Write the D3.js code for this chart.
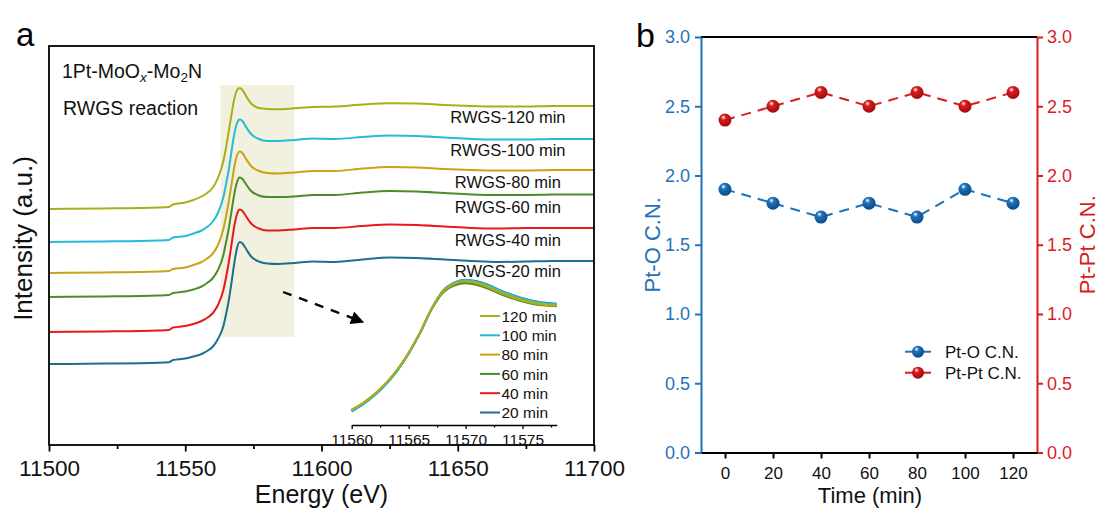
<!DOCTYPE html>
<html>
<head>
<meta charset="utf-8">
<script src="https://cdn.jsdelivr.net/npm/d3@7"></script>
<style>
  html, body { margin: 0; padding: 0; background: #fff; }
  svg { display: block; font-family: "Liberation Sans", Arial, sans-serif; }
</style>
</head>
<body>
<svg id="chart" width="1099" height="509"></svg>
<script>
// ---------------- DATA ----------------
// Panel a: XANES spectra (stacked, arbitrary units)
const energy = [11500, 11520, 11540, 11544, 11545.5, 11550, 11553, 11556, 11558, 11560, 11562, 11564, 11565, 11566, 11567, 11568, 11569, 11570, 11571, 11572, 11574, 11577, 11580, 11584, 11590, 11597, 11605, 11615, 11625, 11635, 11645, 11655, 11665, 11675, 11685, 11700];
const rwgs20  = [89, 89.4, 90.2, 90.8, 93, 94.5, 96.5, 99, 102, 106, 114, 127, 139, 153, 171, 190, 205, 211, 209.5, 205.5, 197, 191.5, 189.5, 189, 190, 191.5, 191, 193.5, 195.5, 195, 193.5, 192, 191, 191.5, 192, 192];
const rwgs40  = [121, 121.5, 122.5, 123, 125.5, 127, 129, 132, 135, 139.5, 148, 163, 176, 191, 209, 227, 239, 243.5, 242, 238, 230, 224.5, 222.5, 222.5, 223.5, 225, 225, 227, 228.5, 228, 226.5, 225, 224.5, 225, 225, 225];
const rwgs60  = [156, 156.5, 157.5, 158, 160, 161.5, 163.5, 166.5, 170, 174.5, 183, 198, 211, 225, 242, 259, 271, 275.5, 274, 270, 262.5, 257.5, 256, 256, 256.5, 258, 258, 260.5, 262, 261.5, 260, 258.5, 258, 258, 258.5, 258.5];
const rwgs80  = [180, 180.5, 181.5, 182, 184, 185.5, 188, 191, 194.5, 199, 208, 224, 237, 252, 269, 286, 297.5, 301.5, 300, 295.5, 287.5, 282, 280, 279.5, 280.5, 282, 282, 284.5, 286, 285.5, 284, 283, 282.5, 282.5, 283, 283];
const rwgs100 = [211, 211.5, 212.5, 213, 215.5, 217, 219.5, 222.5, 226, 231, 240, 256, 269, 284, 302, 319, 330, 333.5, 332, 327.5, 319.5, 314, 312, 312, 313, 314.5, 314, 316, 317.5, 317, 315.5, 314, 313.5, 313.5, 314, 314];
const rwgs120 = [244, 244.5, 245.5, 246, 248.5, 250.5, 253, 256.5, 260, 265, 275, 292, 306, 322, 339, 354, 363, 365, 363, 358.5, 350, 345, 344, 343.7, 344.7, 346, 346.5, 348.5, 349.7, 349.5, 348, 347, 346.5, 346.5, 347, 347];
const seriesNames  = ["20 min", "40 min", "60 min", "80 min", "100 min", "120 min"];
const seriesLabels = ["RWGS-20 min", "RWGS-40 min", "RWGS-60 min", "RWGS-80 min", "RWGS-100 min", "RWGS-120 min"];
const seriesColors = ["#1d6f8e", "#e8191c", "#4b8c2b", "#c9a216", "#25bcd6", "#a9ae1a"];
const xTicksA = [11500, 11550, 11600, 11650, 11700];
const xMinorA = [11525, 11575, 11625, 11675];

// Inset: zoom of the edge region (normalized)
const insetEnergy = [11560, 11561, 11562, 11563, 11564, 11565, 11566, 11567, 11568, 11569, 11570, 11571, 11572, 11573, 11574, 11575, 11576, 11577, 11578];
const inset20  = [0.442, 0.488, 0.547, 0.62, 0.71, 0.822, 0.958, 1.115, 1.235, 1.289, 1.308, 1.298, 1.274, 1.24, 1.212, 1.187, 1.168, 1.156, 1.15];
const inset40  = [0.448, 0.493, 0.551, 0.623, 0.712, 0.823, 0.958, 1.112, 1.227, 1.277, 1.294, 1.282, 1.257, 1.222, 1.195, 1.17, 1.152, 1.143, 1.138];
const inset60  = [0.449, 0.494, 0.552, 0.624, 0.713, 0.824, 0.958, 1.11, 1.222, 1.27, 1.286, 1.274, 1.249, 1.215, 1.188, 1.164, 1.147, 1.138, 1.134];
const inset80  = [0.452, 0.497, 0.555, 0.627, 0.716, 0.827, 0.961, 1.114, 1.229, 1.279, 1.296, 1.284, 1.258, 1.223, 1.195, 1.17, 1.152, 1.142, 1.138];
const inset100 = [0.44, 0.486, 0.545, 0.618, 0.708, 0.82, 0.957, 1.114, 1.234, 1.288, 1.307, 1.296, 1.272, 1.238, 1.21, 1.185, 1.166, 1.154, 1.148];
const inset120 = [0.45, 0.495, 0.553, 0.625, 0.714, 0.825, 0.96, 1.115, 1.232, 1.283, 1.3, 1.288, 1.263, 1.228, 1.2, 1.175, 1.156, 1.146, 1.141];
const insetTicks = [11560, 11565, 11570, 11575];
const insetMinor = [11562.5, 11567.5, 11572.5, 11577.5];

// Highlighted edge region and arrow (data coordinates of panel a)
const highlightE = [11563, 11590];
const highlightI = [116, 368];
const arrowE = [11585.9, 11615.2];
const arrowI = [161, 131];
// label anchor positions (energy, intensity)
const labelE = 11668.4;
const labelI = [176, 207, 240.4, 265.4, 297, 330.4];

// Panel b: coordination numbers
const times = [0, 20, 40, 60, 80, 100, 120];
const ptO   = [1.9, 1.8, 1.7, 1.8, 1.7, 1.9, 1.8];
const ptPt  = [2.4, 2.5, 2.6, 2.5, 2.6, 2.5, 2.6];
const yTicksB = [0, 0.5, 1.0, 1.5, 2.0, 2.5, 3.0];
const xTicksB = [0, 20, 40, 60, 80, 100, 120];

// ---------------- DRAW ----------------
const svg = d3.select("#chart");
const FONT = '"Liberation Sans", Arial, sans-serif';

// ===== Panel a =====
const ax = { l: 49, r: 594, t: 46, b: 445 };
const xA = d3.scaleLinear().domain([11500, 11700]).range([ax.l, ax.r]);
const yA = d3.scaleLinear().domain([8, 407]).range([ax.b, ax.t]);

// highlight box
svg.append("rect")
  .attr("x", xA(highlightE[0])).attr("y", yA(highlightI[1]))
  .attr("width", xA(highlightE[1]) - xA(highlightE[0]))
  .attr("height", yA(highlightI[0]) - yA(highlightI[1]))
  .attr("fill", "#f2f0de");

const seriesA = [rwgs20, rwgs40, rwgs60, rwgs80, rwgs100, rwgs120];
const lineA = d3.line().x((d, i) => xA(energy[i])).y(d => yA(d)).curve(d3.curveMonotoneX);
seriesA.forEach((vals, k) => {
  svg.append("path").datum(vals)
    .attr("d", lineA)
    .attr("fill", "none")
    .attr("stroke", seriesColors[k])
    .attr("stroke-width", 2);
});

// series labels
seriesLabels.forEach((lab, k) => {
  svg.append("text")
    .attr("x", xA(labelE)).attr("y", yA(labelI[k]))
    .attr("text-anchor", "middle")
    .attr("font-size", 16.5)
    .attr("fill", "#111")
    .text(lab);
});

// frame
svg.append("rect")
  .attr("x", ax.l).attr("y", ax.t)
  .attr("width", ax.r - ax.l).attr("height", ax.b - ax.t)
  .attr("fill", "none").attr("stroke", "#000").attr("stroke-width", 1.8);

// x axis
const xAxisA = svg.append("g").attr("transform", `translate(0,${ax.b})`)
  .call(d3.axisBottom(xA).tickValues(xTicksA).tickFormat(d3.format("d")).tickSize(6.5).tickPadding(9));
xAxisA.select(".domain").remove();
xAxisA.selectAll("line").attr("stroke", "#000").attr("stroke-width", 1.8);
xAxisA.selectAll("text").attr("font-size", 22.5).attr("font-family", FONT).attr("fill", "#111");
const xMinA = svg.append("g").attr("transform", `translate(0,${ax.b})`)
  .call(d3.axisBottom(xA).tickValues(xMinorA).tickFormat("").tickSize(4));
xMinA.select(".domain").remove();
xMinA.selectAll("line").attr("stroke", "#000").attr("stroke-width", 1.8);

svg.append("text").attr("x", (ax.l + ax.r) / 2).attr("y", 502.5)
  .attr("text-anchor", "middle").attr("font-size", 25).attr("fill", "#111")
  .text("Energy (eV)");
svg.append("text")
  .attr("transform", `translate(32,${238.5}) rotate(-90)`)
  .attr("text-anchor", "middle").attr("font-size", 26).attr("fill", "#111")
  .text("Intensity (a.u.)");

// sample annotation
const t1 = svg.append("text").attr("x", 62).attr("y", 77.5).attr("font-size", 19.5).attr("fill", "#111");
t1.append("tspan").text("1Pt-MoO");
t1.append("tspan").attr("font-size", 13.5).attr("font-style", "italic").attr("dy", 4).text("x");
t1.append("tspan").attr("dy", -4).text("-Mo");
t1.append("tspan").attr("font-size", 13.5).attr("dy", 4).text("2");
t1.append("tspan").attr("dy", -4).text("N");
svg.append("text").attr("x", 63).attr("y", 115).attr("font-size", 19.5).attr("fill", "#111")
  .text("RWGS reaction");

// panel letter
svg.append("text").attr("x", 16).attr("y", 46).attr("font-size", 33).attr("fill", "#000").text("a");

// arrow
svg.append("defs").append("marker")
  .attr("id", "arrowhead").attr("viewBox", "0 0 10 10")
  .attr("refX", 9).attr("refY", 5)
  .attr("markerWidth", 6).attr("markerHeight", 5.5)
  .attr("markerUnits", "strokeWidth")
  .attr("orient", "auto")
  .append("path").attr("d", "M0,0 L10,5 L0,10 Z").attr("fill", "#000");
svg.append("line")
  .attr("x1", xA(arrowE[0])).attr("y1", yA(arrowI[0]))
  .attr("x2", xA(arrowE[1])).attr("y2", yA(arrowI[1]))
  .attr("stroke", "#000").attr("stroke-width", 2.4)
  .attr("stroke-dasharray", "9,8")
  .attr("marker-end", "url(#arrowhead)");

// ===== Inset =====
const xI = d3.scaleLinear().domain([11560, 11578]).range([351.7, 556.7]);
const yI = d3.scaleLinear().domain([0.45, 1.30]).range([410, 281]);
const insetSeries = [inset20, inset40, inset60, inset80, inset100, inset120];
const lineI = d3.line().x((d, i) => xI(insetEnergy[i])).y(d => yI(d)).curve(d3.curveMonotoneX);
insetSeries.forEach((vals, k) => {
  svg.append("path").datum(vals)
    .attr("d", lineI).attr("fill", "none")
    .attr("stroke", seriesColors[k]).attr("stroke-width", 2);
});
const insetAxis = svg.append("g").attr("transform", "translate(0,425)")
  .call(d3.axisBottom(xI).tickValues(insetTicks).tickFormat(d3.format("d")).tickSize(4).tickPadding(4.5).tickSizeOuter(0));
insetAxis.select(".domain").attr("stroke", "#000").attr("stroke-width", 1.5);
insetAxis.selectAll("line").attr("stroke", "#000").attr("stroke-width", 1.3);
insetAxis.selectAll("text").attr("font-size", 15.5).attr("font-family", FONT).attr("fill", "#111");
const insetMinAx = svg.append("g").attr("transform", "translate(0,425)")
  .call(d3.axisBottom(xI).tickValues(insetMinor).tickFormat("").tickSize(2.5));
insetMinAx.select(".domain").remove();
insetMinAx.selectAll("line").attr("stroke", "#000").attr("stroke-width", 1.3);

// inset legend (120 min at top)
const legOrder = [5, 4, 3, 2, 1, 0];
legOrder.forEach((k, r) => {
  const cy = 316 + r * 19.3;
  svg.append("line").attr("x1", 480).attr("x2", 500).attr("y1", cy).attr("y2", cy)
    .attr("stroke", seriesColors[k]).attr("stroke-width", 2);
  svg.append("text").attr("x", 501.5).attr("y", cy + 5.6)
    .attr("font-size", 15.5).attr("fill", "#111").text(seriesNames[k]);
});

// ===== Panel b =====
const bx = { l: 701, r: 1037, t: 37, b: 452.5 };
const blue = "#1f72b8", red = "#dc1b1f";
const xB = d3.scaleLinear().domain([-10, 130]).range([bx.l, bx.r]);
const yB = d3.scaleLinear().domain([0, 3]).range([bx.b, bx.t]);

const defs = svg.append("defs");
function sphereGrad(id, c, dark) {
  const g = defs.append("radialGradient").attr("id", id)
    .attr("cx", "40%").attr("cy", "35%").attr("r", "65%").attr("fx", "38%").attr("fy", "28%");
  g.append("stop").attr("offset", "0%").attr("stop-color", "#ffffff");
  g.append("stop").attr("offset", "30%").attr("stop-color", c);
  g.append("stop").attr("offset", "100%").attr("stop-color", dark);
}
sphereGrad("gBlue", blue, "#0a4a86");
sphereGrad("gRed", red, "#9c0c0f");

// top border
svg.append("line").attr("x1", bx.l).attr("x2", bx.r).attr("y1", bx.t).attr("y2", bx.t)
  .attr("stroke", "#000").attr("stroke-width", 1.8);

// axes
const yLeft = svg.append("g").attr("transform", `translate(${bx.l},0)`)
  .call(d3.axisLeft(yB).tickValues(yTicksB).tickFormat(d3.format(".1f")).tickSize(6).tickSizeOuter(0).tickPadding(5));
yLeft.select(".domain").attr("stroke", blue).attr("stroke-width", 2);
yLeft.selectAll("line").attr("stroke", blue).attr("stroke-width", 2);
yLeft.selectAll("text").attr("fill", blue).attr("font-size", 18).attr("font-family", FONT);

const yRight = svg.append("g").attr("transform", `translate(${bx.r},0)`)
  .call(d3.axisRight(yB).tickValues(yTicksB).tickFormat(d3.format(".1f")).tickSize(6).tickSizeOuter(0).tickPadding(4));
yRight.select(".domain").attr("stroke", red).attr("stroke-width", 2);
yRight.selectAll("line").attr("stroke", red).attr("stroke-width", 2);
yRight.selectAll("text").attr("fill", red).attr("font-size", 18).attr("font-family", FONT);

const xBot = svg.append("g").attr("transform", `translate(0,${bx.b})`)
  .call(d3.axisBottom(xB).tickValues(xTicksB).tickFormat(d3.format("d")).tickSize(6).tickSizeOuter(0).tickPadding(8));
xBot.select(".domain").attr("stroke", "#000").attr("stroke-width", 2);
xBot.selectAll("line").attr("stroke", "#000").attr("stroke-width", 2);
xBot.selectAll("text").attr("fill", "#111").attr("font-size", 17).attr("font-family", FONT);

svg.append("text").attr("x", 870).attr("y", 503).attr("text-anchor", "middle")
  .attr("font-size", 22).attr("fill", "#111").text("Time (min)");
svg.append("text").attr("transform", `translate(660,${(bx.t + bx.b) / 2}) rotate(-90)`)
  .attr("text-anchor", "middle").attr("font-size", 22).attr("fill", blue).text("Pt-O C.N.");
svg.append("text").attr("transform", `translate(1095,${(bx.t + bx.b) / 2}) rotate(-90)`)
  .attr("text-anchor", "middle").attr("font-size", 22).attr("fill", red).text("Pt-Pt C.N.");

svg.append("text").attr("x", 636).attr("y", 47).attr("font-size", 34).attr("fill", "#000").text("b");

// series
const lineB = d3.line().x((d, i) => xB(times[i])).y(d => yB(d));
[[ptO, blue, "gBlue"], [ptPt, red, "gRed"]].forEach(([vals, c, g]) => {
  svg.append("path").datum(vals).attr("d", lineB)
    .attr("fill", "none").attr("stroke", c).attr("stroke-width", 2)
    .attr("stroke-dasharray", "10,7");
  svg.selectAll(null).data(vals).enter().append("circle")
    .attr("cx", (d, i) => xB(times[i])).attr("cy", d => yB(d))
    .attr("r", 6.5).attr("fill", `url(#${g})`);
});

// legend
[["Pt-O C.N.", blue, "gBlue", 351.7], ["Pt-Pt C.N.", red, "gRed", 372.7]].forEach(([lab, c, g, cy]) => {
  svg.append("line").attr("x1", 905).attr("x2", 931).attr("y1", cy).attr("y2", cy)
    .attr("stroke", c).attr("stroke-width", 2);
  svg.append("circle").attr("cx", 918).attr("cy", cy).attr("r", 6).attr("fill", `url(#${g})`);
  svg.append("text").attr("x", 945).attr("y", cy + 6).attr("font-size", 17).attr("fill", "#111").text(lab);
});
</script>
</body>
</html>
